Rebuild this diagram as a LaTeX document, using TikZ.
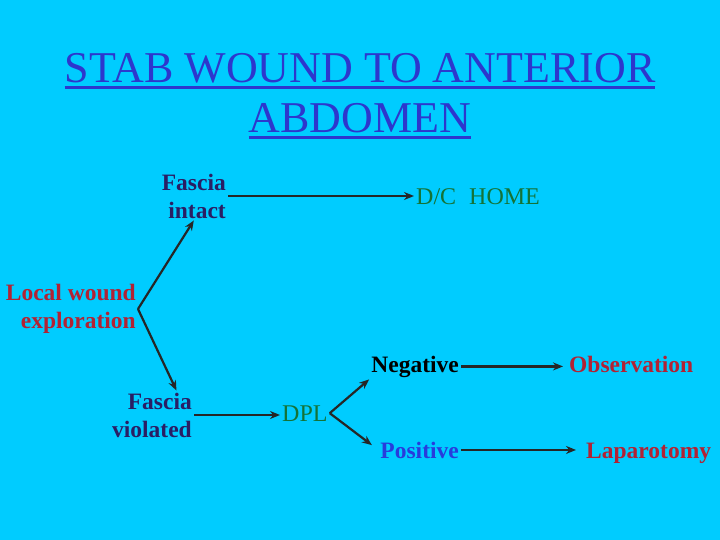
\documentclass[tikz,border=0pt]{standalone}
\usepackage{fontspec}
\setmainfont{Liberation Serif}
\usetikzlibrary{arrows.meta}
\definecolor{slidebg}{RGB}{0,204,255}
\definecolor{titleblue}{RGB}{45,55,205}
\definecolor{fasciablue}{RGB}{42,30,100}
\definecolor{darkred}{RGB}{178,34,52}
\definecolor{dpgreen}{RGB}{20,115,55}
\definecolor{posblue}{RGB}{40,60,220}
\newcommand{\titleline}[1]{\setbox0\hbox{#1}\rlap{\rule[-6pt]{\wd0}{2.6pt}}\box0}
\begin{document}
\begin{tikzpicture}[x=1pt,y=-1pt,
	txt/.style={inner sep=2pt,font=\fontsize{23.5}{28}\selectfont\bfseries},
	plain/.style={inner sep=2pt,font=\fontsize{24}{28}\selectfont,text=dpgreen},
	arr/.style={-{Stealth[length=10pt,width=8pt]},line width=2.2pt,draw=black!85}]
	\fill[slidebg] (0,0) rectangle (720,540);
	\useasboundingbox (0,0) rectangle (720,540);
	% title
	\node[text=titleblue,align=center,font=\fontsize{44}{50}\selectfont] (title) at (360,96)
		{\titleline{STAB WOUND TO ANTERIOR}\\\titleline{ABDOMEN}};
	% tree
	\node[txt,text=darkred,align=right,anchor=east] (local) at (138,309) {Local wound\\exploration};
	\node[txt,text=fasciablue,align=right,anchor=east] (intact) at (228,196) {Fascia\\intact};
	\node[txt,text=fasciablue,align=right,anchor=east] (violated) at (194,415) {Fascia\\violated};
	\node[plain,anchor=base west] (dc) at (414,205) {D/C\hspace{13pt}HOME};
	\node[plain,anchor=base west] (dpl) at (280,421) {DPL};
	\node[txt,anchor=base east] (neg) at (461,372) {Negative};
	\node[txt,text=posblue,anchor=base east] (pos) at (461,458) {Positive};
	\node[txt,text=darkred,anchor=base west] (obs) at (567,372) {Observation};
	\node[txt,text=darkred,anchor=base west] (lap) at (584,458) {Laparotomy};
	% arrows
	\draw[arr] (local.east) -- (intact.south);
	\draw[arr] (local.east) -- (violated.45);
	\draw[arr] (intact.east) -- (intact.east -| dc.west);
	\draw[arr] (violated.east) -- (violated.east -| dpl.west);
	\draw[arr] (dpl.east) -- (neg.south west);
	\draw[arr,shorten >=8pt] (dpl.east) -- (pos.west);
	\draw[arr,shorten >=4pt] (neg.east) -- (neg.east -| obs.west);
	\draw[arr,shorten >=8pt] (pos.east) -- (pos.east -| lap.west);
\end{tikzpicture}
\end{document}
